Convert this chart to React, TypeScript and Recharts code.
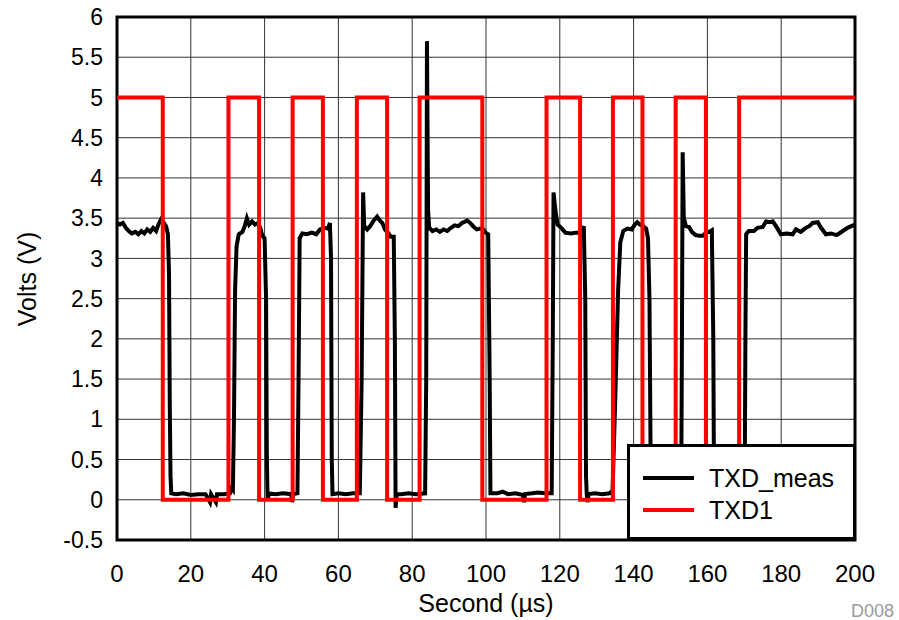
import React from 'react';
import {
  LineChart,
  Line,
  XAxis,
  YAxis,
  CartesianGrid,
  ReferenceArea,
} from 'recharts';

// TXD1 input (ideal square wave), edges in µs
const txd1Time = [
  0, 12.4, 12.4, 30.2, 30.2, 38.5, 38.5, 47.6, 47.6, 55.8, 55.8, 65, 65, 73.2, 73.2, 82, 82, 99, 99,
  116.4, 116.4, 125.5, 125.5, 134.4, 134.4, 142.4, 142.4, 151.4, 151.4, 159.6, 159.6, 168.6, 168.6, 200,
];
const txd1Level = [
  5, 5, 0, 0, 5, 5, 0, 0, 5, 5, 0, 0, 5, 5, 0, 0, 5, 5, 0,
  0, 5, 5, 0, 0, 5, 5, 0, 0, 5, 5, 0, 0, 5, 5,
];

// TXD_meas
const measTime = [
  0, 0.8, 1.6, 2.4, 3.2, 4.0, 5.0, 5.8, 6.6, 7.4, 8.2, 9.0, 9.8, 10.6, 11.3, 12.0, 12.7, 13.3, 13.8, 14.1, 14.3, 14.5, 14.7,
  16, 18, 20, 22, 24, 25.2, 25.5, 26.8, 27.1, 29, 30.6, 31.0, 31.4, 31.7, 32.0, 32.4,
  33.0, 34.0, 34.6, 35.2, 35.8, 36.6, 37.4, 38.2, 38.8, 39.4, 40.0, 40.4, 40.6, 40.8, 41.2,
  43, 45, 47.2, 47.4, 47.7, 48.9, 49.2, 49.5,
  50.2, 51.5, 52.8, 54.0, 55.0, 56.2, 57.2, 57.7, 58.0, 58.2, 58.4,
  60, 62, 64, 65.8, 66.3, 66.7, 67.0, 67.8, 68.6, 69.4, 70.5, 71.2, 71.9, 72.6, 73.4, 74.2, 75.0, 75.3, 75.5, 75.8,
  77, 79, 81, 83.5, 83.8, 84.0, 84.3, 84.6, 85.5, 86.5, 87.5, 88.5, 89.5, 90.5, 91.5, 92.5, 93.5, 94.9, 95.7, 96.5,
  97.5, 98.5, 99.3, 99.9, 100.6, 101.0, 101.2,
  103, 104.5, 106, 108, 110, 110.3, 110.6, 112.5, 114, 116, 117.8, 118.1, 118.3, 118.8, 119.4, 120.6, 121.5, 123,
  124.5, 125.8, 126.5, 126.9, 127.1, 127.3, 127.5, 127.8,
  129.5, 131.5, 133.5, 134.3, 135.0, 135.8, 136.4, 137.2, 138.3, 139.5, 140.3, 141.0, 141.7, 142.6, 143.4, 143.9,
  144.3, 144.6, 144.8,
  146.5, 148.5, 150.5, 152.9, 153.1, 153.3, 153.6, 154.2, 155.0, 155.8, 156.8, 157.8, 158.8, 159.6, 160.5, 161.2,
  161.6, 161.8,
  163.5, 165.5, 167.5, 170.1, 170.3, 170.5, 171.2, 172.6, 173.6, 175, 175.9, 177.0, 177.7, 178.6, 179.9, 181.5,
  183.1, 184, 185.3, 186.7, 187.6, 188.5, 189.9, 190.8, 192.1, 193.5, 195, 195.7, 196.7, 198, 199, 200,
];
const measVolt = [
  3.44, 3.42, 3.44, 3.38, 3.34, 3.31, 3.33, 3.3, 3.34, 3.31, 3.36, 3.33, 3.38, 3.34, 3.43, 3.49, 3.44, 3.4, 3.3, 2.8, 1.2, 0.3, 0.08,
  0.07, 0.08, 0.06, 0.07, 0.07, -0.03, 0.07, -0.03, 0.07, 0.07, 0.08, 0.14, 0.12, 1.0, 2.6, 3.15,
  3.3, 3.33, 3.4, 3.5, 3.42, 3.46, 3.42, 3.44, 3.38, 3.28, 3.25, 2.5, 0.6, 0.0, 0.08,
  0.07, 0.08, 0.07, -0.03, 0.07, 0.08, 1.5, 3.25,
  3.31, 3.3, 3.32, 3.3, 3.36, 3.38, 3.37, 3.44, 3.0, 0.5, 0.07,
  0.08, 0.07, 0.08, 0.08, 1.5, 3.82, 3.4, 3.36, 3.4, 3.46, 3.52, 3.47, 3.44, 3.36, 3.32, 3.27, 3.27, 2.0, -0.1, 0.07,
  0.07, 0.08, 0.07, 0.08, 1.5, 5.7, 3.6, 3.38, 3.34, 3.36, 3.33, 3.36, 3.34, 3.38, 3.41, 3.4, 3.44, 3.47, 3.44, 3.4,
  3.36, 3.37, 3.36, 3.32, 3.3, 1.5, 0.08,
  0.08, 0.1, 0.07, 0.08, 0.06, -0.03, 0.07, 0.08, 0.09, 0.08, 0.08, 2.0, 3.82, 3.6, 3.42, 3.37, 3.32, 3.31,
  3.32, 3.32, 3.4, 2.5, 0.3, 0.07, -0.03, 0.07,
  0.08, 0.07, 0.08, 0.12, 1.2, 2.6, 3.2, 3.34, 3.37, 3.36, 3.42, 3.45, 3.42, 3.4, 3.37, 3.25,
  2.5, 0.6, 0.07,
  0.08, 0.07, 0.08, 0.08, 2.0, 4.32, 3.5, 3.4, 3.39, 3.33, 3.29, 3.28, 3.28, 3.32, 3.33, 3.35,
  2.0, 0.07,
  0.08, 0.07, 0.08, 0.08, 2.0, 3.3, 3.34, 3.34, 3.38, 3.39, 3.46, 3.45, 3.46, 3.4, 3.3, 3.31,
  3.3, 3.36, 3.33, 3.38, 3.4, 3.44, 3.45, 3.38, 3.3, 3.31, 3.29, 3.31, 3.34, 3.38, 3.4, 3.42,
];

const xTicks = [0, 20, 40, 60, 80, 100, 120, 140, 160, 180, 200];
const yTicks = [-0.5, 0, 0.5, 1, 1.5, 2, 2.5, 3, 3.5, 4, 4.5, 5, 5.5, 6];

const txd1Data = txd1Time.map((t, i) => ({ t, v: txd1Level[i] }));
const measData = measTime.map((t, i) => ({ t, v: measVolt[i] }));

const FONT = '"Liberation Sans", Arial, sans-serif';

const legendItems = [
  { name: 'TXD_meas', color: '#000000' },
  { name: 'TXD1', color: '#ff0000' },
];

export default function App() {
  return (
    <div style={{ position: 'absolute', left: 0, top: 0, width: 899, height: 620, background: '#fff', fontFamily: FONT }}>
      <LineChart width={899} height={620} margin={{ top: 17, right: 44, bottom: 0, left: 0 }}>
        <CartesianGrid stroke="#333" strokeWidth={1} />
        <XAxis
          dataKey="t"
          type="number"
          domain={[0, 200]}
          ticks={xTicks}
          height={80}
          axisLine={false}
          tickLine={false}
          tickMargin={19}
          tick={{ fontSize: 24, fill: '#000', fontFamily: FONT }}
          allowDuplicatedCategory={false}
        />
        <YAxis
          type="number"
          domain={[-0.5, 6]}
          ticks={yTicks}
          width={117}
          axisLine={false}
          tickLine={false}
          tickMargin={8}
          tick={{ fontSize: 23, fill: '#000', fontFamily: FONT }}
        />
        <Line
          data={measData}
          dataKey="v"
          name="TXD_meas"
          type="linear"
          stroke="#000000"
          strokeWidth={4}
          dot={false}
          isAnimationActive={false}
        />
        <Line
          data={txd1Data}
          dataKey="v"
          name="TXD1"
          type="linear"
          stroke="#ff0000"
          strokeWidth={4}
          dot={false}
          isAnimationActive={false}
        />
        <ReferenceArea x1={0} x2={200} y1={-0.5} y2={6} fill="none" stroke="#000" strokeWidth={3} />
      </LineChart>

      {/* legend box over the lower right of the plot */}
      <div
        style={{
          position: 'absolute',
          left: 627,
          top: 444,
          width: 229,
          height: 96,
          boxSizing: 'border-box',
          border: '3px solid #000',
          background: '#fff',
          paddingTop: 15,
          paddingLeft: 13,
          fontSize: 25,
          lineHeight: '31px',
          color: '#000',
        }}
      >
        {legendItems.map((item) => (
          <div key={item.name} style={{ display: 'flex', alignItems: 'center', height: 32 }}>
            <div style={{ width: 51, height: 4, background: item.color, marginRight: 15 }} />
            <span>{item.name}</span>
          </div>
        ))}
      </div>

      {/* axis titles and figure id */}
      <div
        style={{
          position: 'absolute',
          left: 27,
          top: 279,
          transform: 'translate(-50%, -50%) rotate(-90deg)',
          fontSize: 25,
          whiteSpace: 'nowrap',
        }}
      >
        Volts (V)
      </div>
      <div
        style={{
          position: 'absolute',
          left: 486,
          top: 603,
          transform: 'translate(-50%, -50%)',
          fontSize: 25,
          whiteSpace: 'nowrap',
        }}
      >
        Second (µs)
      </div>
      <div style={{ position: 'absolute', left: 851, top: 601, fontSize: 18, color: '#9a9a9a' }}>D008</div>
    </div>
  );
}
